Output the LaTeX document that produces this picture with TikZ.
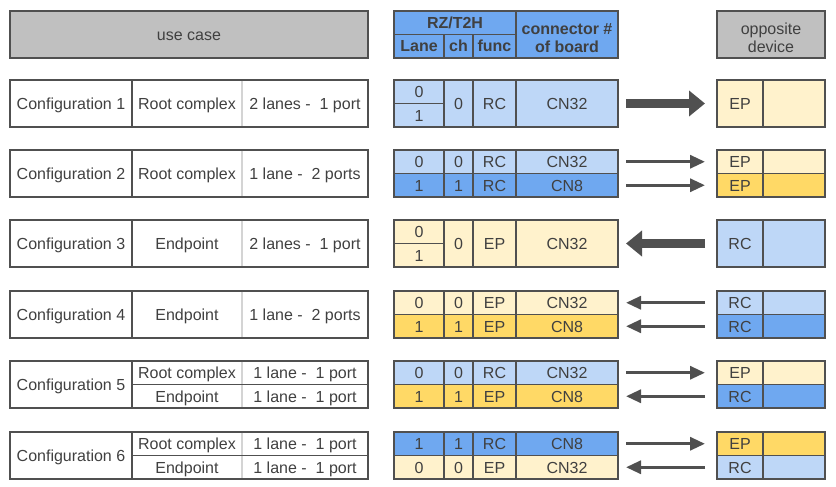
\documentclass[tikz,border=0pt]{standalone}
\usepackage{fontspec}
\setmainfont{Liberation Sans}
\usetikzlibrary{arrows.meta}

\definecolor{ltblue}{RGB}{190,215,247}
\definecolor{mdblue}{RGB}{111,168,240}
\definecolor{ltyellow}{RGB}{255,242,204}
\definecolor{dkyellow}{RGB}{255,217,102}
\definecolor{hdgray}{RGB}{192,192,192}
\definecolor{txtgray}{RGB}{64,64,64}
\definecolor{linegray}{RGB}{80,80,80}
\definecolor{thingray}{RGB}{212,212,212}

\tikzset{
  base/.style={draw=linegray,line width=1.3pt,inner sep=0pt,outer sep=0pt,anchor=north west,
    text=txtgray,font=\fontsize{16}{18.5}\selectfont},
  cell/.style={base,text height=12pt,text depth=-3.5pt},
  hdr/.style={base,align=center},
  subhdr/.style={base,text height=12pt,text depth=1pt,font=\fontsize{16}{18.5}\selectfont\bfseries},
  full/.style={minimum height=47pt},
  half/.style={minimum height=23.5pt},
  ucA/.style={minimum width=122pt},
  ucB/.style={minimum width=110pt},
  ucC/.style={minimum width=126pt},
  lanec/.style={minimum width=50pt},
  chc/.style={minimum width=29pt},
  funcc/.style={minimum width=43pt},
  connc/.style={minimum width=102pt},
  oppA/.style={minimum width=46pt},
  oppB/.style={minimum width=62pt},
  lightdiv/.style={draw=thingray,line width=1.3pt,shorten <=0.8pt,shorten >=0.8pt},
  bigline/.style={draw=linegray,line width=9pt,-{Triangle[length=16pt,width=25pt]}},
  thinline/.style={draw=linegray,line width=3.2pt,-{Triangle[length=15pt,width=13pt]}},
  outgo/.style={shorten <=8pt,shorten >=12pt},
  income/.style={shorten <=12pt,shorten >=8pt}
}
\newcommand{\hstrut}{\rule{0pt}{18pt}}

\begin{document}
\begin{tikzpicture}[x=1pt,y=-1pt]
  \useasboundingbox (0,0) rectangle (836,487);

  % Headers
  \node[cell,fill=hdgray,minimum width=358pt,full] (huse) at (10,11) {use case};
  \node[subhdr,fill=mdblue,minimum width=122pt,half] (hrz) at (394,11) {RZ/T2H};
  \node[subhdr,fill=mdblue,lanec,half] (hlane) at (394,34.5) {Lane};
  \node[subhdr,fill=mdblue,chc,half] (hch) at (444,34.5) {ch};
  \node[subhdr,fill=mdblue,funcc,half] (hfunc) at (473,34.5) {func};
  \node[hdr,fill=mdblue,connc,full,font=\fontsize{16}{18.5}\selectfont\bfseries] (hconn) at (516,11) {\hstrut connector \#\\of board};
  \node[hdr,fill=hdgray,minimum width=108pt,full] (hopp) at (717,11) {\hstrut opposite\\device};

  % Configuration 1
  \node[cell,ucA,full] (u1a) at (10,80) {Configuration 1};
  \node[cell,ucB,full] (u1b) at (132,80) {Root complex};
  \node[cell,ucC,full] (u1c) at (242,80) {2 lanes -~ 1 port};
  \draw[lightdiv] (u1b.north east) -- (u1b.south east);
  \node[cell,lanec,half,fill=ltblue] (b1l0) at (394,80) {0};
  \node[cell,lanec,half,fill=ltblue] (b1l1) at (394,103.5) {1};
  \node[cell,chc,full,fill=ltblue] (b1ch) at (444,80) {0};
  \node[cell,funcc,full,fill=ltblue] (b1fn) at (473,80) {RC};
  \node[cell,connc,full,fill=ltblue] (b1cn) at (516,80) {CN32};
  \node[cell,oppA,full,fill=ltyellow] (o1a) at (717,80) {EP};
  \node[cell,oppB,full,fill=ltyellow] (o1b) at (763,80) {};
  \draw[bigline,outgo] (b1cn) -- (o1a);

  % Configuration 2
  \node[cell,ucA,full] (u2a) at (10,150) {Configuration 2};
  \node[cell,ucB,full] (u2b) at (132,150) {Root complex};
  \node[cell,ucC,full] (u2c) at (242,150) {1 lane -~ 2 ports};
  \draw[lightdiv] (u2b.north east) -- (u2b.south east);
  \node[cell,lanec,half,fill=ltblue] (b2l0) at (394,150) {0};
  \node[cell,chc,half,fill=ltblue] (b2ch0) at (444,150) {0};
  \node[cell,funcc,half,fill=ltblue] (b2fn0) at (473,150) {RC};
  \node[cell,connc,half,fill=ltblue] (b2cn0) at (516,150) {CN32};
  \node[cell,lanec,half,fill=mdblue] (b2l1) at (394,173.5) {1};
  \node[cell,chc,half,fill=mdblue] (b2ch1) at (444,173.5) {1};
  \node[cell,funcc,half,fill=mdblue] (b2fn1) at (473,173.5) {RC};
  \node[cell,connc,half,fill=mdblue] (b2cn1) at (516,173.5) {CN8};
  \node[cell,oppA,half,fill=ltyellow] (o2a0) at (717,150) {EP};
  \node[cell,oppB,half,fill=ltyellow] (o2b0) at (763,150) {};
  \node[cell,oppA,half,fill=dkyellow] (o2a1) at (717,173.5) {EP};
  \node[cell,oppB,half,fill=dkyellow] (o2b1) at (763,173.5) {};
  \draw[thinline,outgo] (b2cn0) -- (o2a0);
  \draw[thinline,outgo] (b2cn1) -- (o2a1);

  % Configuration 3
  \node[cell,ucA,full] (u3a) at (10,220) {Configuration 3};
  \node[cell,ucB,full] (u3b) at (132,220) {Endpoint};
  \node[cell,ucC,full] (u3c) at (242,220) {2 lanes -~ 1 port};
  \draw[lightdiv] (u3b.north east) -- (u3b.south east);
  \node[cell,lanec,half,fill=ltyellow] (b3l0) at (394,220) {0};
  \node[cell,lanec,half,fill=ltyellow] (b3l1) at (394,243.5) {1};
  \node[cell,chc,full,fill=ltyellow] (b3ch) at (444,220) {0};
  \node[cell,funcc,full,fill=ltyellow] (b3fn) at (473,220) {EP};
  \node[cell,connc,full,fill=ltyellow] (b3cn) at (516,220) {CN32};
  \node[cell,oppA,full,fill=ltblue] (o3a) at (717,220) {RC};
  \node[cell,oppB,full,fill=ltblue] (o3b) at (763,220) {};
  \draw[bigline,income] (o3a) -- (b3cn);

  % Configuration 4
  \node[cell,ucA,full] (u4a) at (10,291) {Configuration 4};
  \node[cell,ucB,full] (u4b) at (132,291) {Endpoint};
  \node[cell,ucC,full] (u4c) at (242,291) {1 lane -~ 2 ports};
  \draw[lightdiv] (u4b.north east) -- (u4b.south east);
  \node[cell,lanec,half,fill=ltyellow] (b4l0) at (394,291) {0};
  \node[cell,chc,half,fill=ltyellow] (b4ch0) at (444,291) {0};
  \node[cell,funcc,half,fill=ltyellow] (b4fn0) at (473,291) {EP};
  \node[cell,connc,half,fill=ltyellow] (b4cn0) at (516,291) {CN32};
  \node[cell,lanec,half,fill=dkyellow] (b4l1) at (394,314.5) {1};
  \node[cell,chc,half,fill=dkyellow] (b4ch1) at (444,314.5) {1};
  \node[cell,funcc,half,fill=dkyellow] (b4fn1) at (473,314.5) {EP};
  \node[cell,connc,half,fill=dkyellow] (b4cn1) at (516,314.5) {CN8};
  \node[cell,oppA,half,fill=ltblue] (o4a0) at (717,291) {RC};
  \node[cell,oppB,half,fill=ltblue] (o4b0) at (763,291) {};
  \node[cell,oppA,half,fill=mdblue] (o4a1) at (717,314.5) {RC};
  \node[cell,oppB,half,fill=mdblue] (o4b1) at (763,314.5) {};
  \draw[thinline,income] (o4a0) -- (b4cn0);
  \draw[thinline,income] (o4a1) -- (b4cn1);

  % Configuration 5
  \node[cell,ucA,full] (u5a) at (10,361) {Configuration 5};
  \node[cell,ucB,half] (u5b0) at (132,361) {Root complex};
  \node[cell,ucC,half] (u5c0) at (242,361) {1 lane -~ 1 port};
  \node[cell,ucB,half] (u5b1) at (132,384.5) {Endpoint};
  \node[cell,ucC,half] (u5c1) at (242,384.5) {1 lane -~ 1 port};
  \draw[lightdiv] (u5b0.north east) -- (u5b0.south east);
  \draw[lightdiv] (u5b1.north east) -- (u5b1.south east);
  \node[cell,lanec,half,fill=ltblue] (b5l0) at (394,361) {0};
  \node[cell,chc,half,fill=ltblue] (b5ch0) at (444,361) {0};
  \node[cell,funcc,half,fill=ltblue] (b5fn0) at (473,361) {RC};
  \node[cell,connc,half,fill=ltblue] (b5cn0) at (516,361) {CN32};
  \node[cell,lanec,half,fill=dkyellow] (b5l1) at (394,384.5) {1};
  \node[cell,chc,half,fill=dkyellow] (b5ch1) at (444,384.5) {1};
  \node[cell,funcc,half,fill=dkyellow] (b5fn1) at (473,384.5) {EP};
  \node[cell,connc,half,fill=dkyellow] (b5cn1) at (516,384.5) {CN8};
  \node[cell,oppA,half,fill=ltyellow] (o5a0) at (717,361) {EP};
  \node[cell,oppB,half,fill=ltyellow] (o5b0) at (763,361) {};
  \node[cell,oppA,half,fill=mdblue] (o5a1) at (717,384.5) {RC};
  \node[cell,oppB,half,fill=mdblue] (o5b1) at (763,384.5) {};
  \draw[thinline,outgo] (b5cn0) -- (o5a0);
  \draw[thinline,income] (o5a1) -- (b5cn1);

  % Configuration 6
  \node[cell,ucA,full] (u6a) at (10,432) {Configuration 6};
  \node[cell,ucB,half] (u6b0) at (132,432) {Root complex};
  \node[cell,ucC,half] (u6c0) at (242,432) {1 lane -~ 1 port};
  \node[cell,ucB,half] (u6b1) at (132,455.5) {Endpoint};
  \node[cell,ucC,half] (u6c1) at (242,455.5) {1 lane -~ 1 port};
  \draw[lightdiv] (u6b0.north east) -- (u6b0.south east);
  \draw[lightdiv] (u6b1.north east) -- (u6b1.south east);
  \node[cell,lanec,half,fill=mdblue] (b6l0) at (394,432) {1};
  \node[cell,chc,half,fill=mdblue] (b6ch0) at (444,432) {1};
  \node[cell,funcc,half,fill=mdblue] (b6fn0) at (473,432) {RC};
  \node[cell,connc,half,fill=mdblue] (b6cn0) at (516,432) {CN8};
  \node[cell,lanec,half,fill=ltyellow] (b6l1) at (394,455.5) {0};
  \node[cell,chc,half,fill=ltyellow] (b6ch1) at (444,455.5) {0};
  \node[cell,funcc,half,fill=ltyellow] (b6fn1) at (473,455.5) {EP};
  \node[cell,connc,half,fill=ltyellow] (b6cn1) at (516,455.5) {CN32};
  \node[cell,oppA,half,fill=dkyellow] (o6a0) at (717,432) {EP};
  \node[cell,oppB,half,fill=dkyellow] (o6b0) at (763,432) {};
  \node[cell,oppA,half,fill=ltblue] (o6a1) at (717,455.5) {RC};
  \node[cell,oppB,half,fill=ltblue] (o6b1) at (763,455.5) {};
  \draw[thinline,outgo] (b6cn0) -- (o6a0);
  \draw[thinline,income] (o6a1) -- (b6cn1);

\end{tikzpicture}
\end{document}
